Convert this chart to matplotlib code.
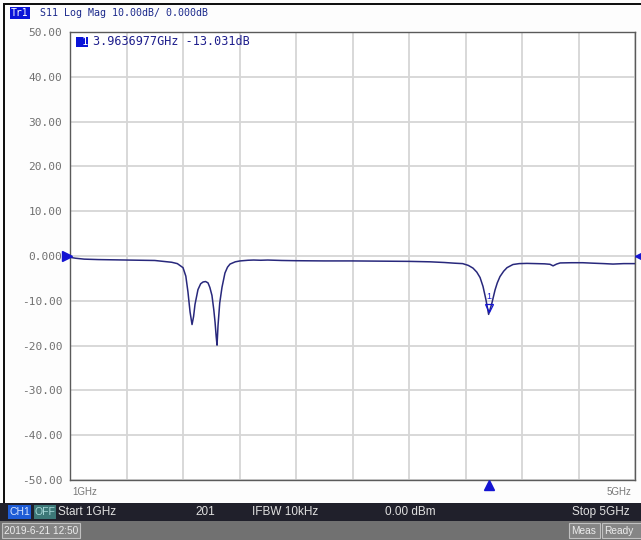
import matplotlib
matplotlib.use("Agg")
import matplotlib.pyplot as plt
import matplotlib.transforms as mtransforms
from matplotlib.patches import Rectangle
import numpy as np

W, H = 641, 540

# S11 trace (GHz, dB)
freq_ghz = [1.00, 1.04, 1.10, 1.20, 1.30, 1.40, 1.50, 1.60, 1.66, 1.72, 1.76, 1.80,
            1.82, 1.835, 1.85, 1.864, 1.875, 1.885, 1.906, 1.925, 1.942, 1.96, 1.977,
            1.99, 2.005, 2.018, 2.027, 2.035, 2.041, 2.048, 2.06, 2.076, 2.097, 2.115,
            2.133, 2.17, 2.204, 2.26, 2.30, 2.35, 2.40, 2.50, 2.60, 2.80, 3.00, 3.20,
            3.40, 3.55, 3.65, 3.72, 3.78, 3.82, 3.853, 3.88, 3.903, 3.924, 3.945,
            3.9637, 3.987, 4.009, 4.025, 4.044, 4.07, 4.094, 4.136, 4.18, 4.235, 4.30,
            4.36, 4.398, 4.42, 4.445, 4.47, 4.55, 4.63, 4.70, 4.78, 4.844, 4.92, 5.00]
s11_db = [-0.3, -0.5, -0.7, -0.8, -0.85, -0.9, -0.95, -1.0, -1.2, -1.4, -1.7, -2.6,
          -4.5, -8.0, -12.5, -15.3, -13.5, -10.8, -7.5, -6.2, -5.8, -5.7, -6.0,
          -7.0, -8.8, -12.0, -14.8, -18.0, -19.9, -15.5, -10.5, -7.0, -3.8, -2.5,
          -1.8, -1.3, -1.1, -0.95, -0.9, -0.95, -0.9, -1.0, -1.05, -1.1, -1.1, -1.15,
          -1.2, -1.3, -1.45, -1.6, -1.7, -2.1, -2.7, -3.6, -4.8, -6.8, -9.8,
          -13.03, -10.5, -7.6, -6.0, -4.6, -3.4, -2.6, -1.9, -1.7, -1.65, -1.7,
          -1.75, -1.85, -2.2, -1.8, -1.55, -1.5, -1.5, -1.6, -1.7, -1.8, -1.7, -1.7]

marker_freq = 3.9636977
marker_db = -13.031
y_ticks = [50, 40, 30, 20, 10, 0, -10, -20, -30, -40, -50]
y_tick_labels = ["50.00", "40.00", "30.00", "20.00", "10.00", "0.000",
                 "-10.00", "-20.00", "-30.00", "-40.00", "-50.00"]
header = "S11 Log Mag 10.00dB/ 0.000dB"
readout = "3.9636977GHz -13.031dB"
status_labels = ["Start 1GHz", "201", "IFBW 10kHz", "0.00 dBm", "Stop 5GHz"]

MONO = "DejaVu Sans Mono"
SANS = "Liberation Sans"
TRACE = "#28287c"
MARK = "#1414d2"


def fx(px):
    return px / W


def fy(py):
    return 1 - py / H


fig = plt.figure(figsize=(W / 100, H / 100), dpi=100)
fig.patch.set_facecolor("#fdfdfd")

ax = fig.add_axes([fx(70), fy(480), 565 / W, 448 / H])
ax.set_facecolor("white")
ax.plot(freq_ghz, s11_db, color=TRACE, lw=1.1, zorder=3)
ax.set_xlim(1, 5)
ax.set_ylim(-50, 50)
ax.set_xticks(np.linspace(1, 5, 11))
ax.set_xticklabels([])
ax.set_yticks(y_ticks)
ax.set_yticklabels(y_tick_labels, fontfamily=MONO, fontsize=8, color="#707070")
ax.tick_params(length=0, pad=5.5)
ax.grid(color="#d6d6d6", lw=1.3)
for s in ax.spines.values():
    s.set_color("#5a5a5a")
    s.set_linewidth(1.0)

# reference level arrows at 0 dB
left_tr = mtransforms.offset_copy(ax.transData, fig=fig, x=-3.5, y=0, units="dots")
ax.plot([1], [0], marker=">", ms=7, color=MARK, clip_on=False, transform=left_tr, zorder=5)
right_tr = mtransforms.offset_copy(ax.transData, fig=fig, x=5, y=0, units="dots")
ax.plot([5], [0], marker="<", ms=7, color=MARK, clip_on=False, transform=right_tr, zorder=5)

# marker 1 on the trace
tri_tr = mtransforms.offset_copy(ax.transData, fig=fig, x=0, y=6, units="dots")
ax.plot([marker_freq], [marker_db], marker="v", ms=6, mfc="none", mec=MARK, mew=0.9,
        transform=tri_tr, zorder=4)
ax.annotate("1", (marker_freq, marker_db), xytext=(0, 13), textcoords="offset points",
            ha="center", va="center", fontsize=6.5, color=MARK, family=SANS)

# marker position arrow below the grid
blend = mtransforms.blended_transform_factory(ax.transData, ax.transAxes)
bot_tr = mtransforms.offset_copy(blend, fig=fig, x=0, y=-5, units="dots")
ax.plot([marker_freq], [0], marker="^", ms=7, color=MARK, clip_on=False,
        transform=bot_tr, zorder=5)

# marker readout
fig.patches.append(Rectangle((fx(76), fy(47)), 12 / W, 10 / H, transform=fig.transFigure,
                             facecolor="#0a14d8", edgecolor="none", zorder=5))
fig.text(fx(84.5), fy(42), "1", color="white", fontsize=7.5, family=MONO,
         ha="center", va="center", zorder=6)
fig.text(fx(93), fy(42), readout, color="#1e1e8c", fontsize=8.5, family=MONO,
         va="center", zorder=6)

# trace header
fig.patches.append(Rectangle((fx(10), fy(19)), 20 / W, 12 / H, transform=fig.transFigure,
                             facecolor="#0a14d8", edgecolor="none"))
fig.text(fx(20), fy(13), "Tr1", color="white", fontsize=7, family=MONO, ha="center", va="center")
fig.text(fx(40), fy(13), header, color="#1c2a8c", fontsize=7.2, family=MONO, va="center")

# frequency end labels
fig.text(fx(72), fy(492), "1GHz", color="#777777", fontsize=7, family=SANS, va="center")
fig.text(fx(631), fy(492), "5GHz", color="#777777", fontsize=7, family=SANS,
         va="center", ha="right")

# screen borders
fig.patches.append(Rectangle((fx(3), fy(5)), 1 - fx(3), 2 / H, transform=fig.transFigure,
                             facecolor="#111111", edgecolor="none"))
fig.patches.append(Rectangle((fx(3), fy(505)), 2 / W, 500 / H, transform=fig.transFigure,
                             facecolor="#111111", edgecolor="none"))

# channel status bar
fig.patches.append(Rectangle((0, fy(521)), 1, 18 / H, transform=fig.transFigure,
                             facecolor="#20202b", edgecolor="none"))
fig.patches.append(Rectangle((fx(8), fy(519)), 23 / W, 14 / H, transform=fig.transFigure,
                             facecolor="#1e5cd6", edgecolor="none"))
fig.text(fx(19.5), fy(512), "CH1", color="#d8e6ff", fontsize=7.5, family=SANS,
         ha="center", va="center")
fig.patches.append(Rectangle((fx(34), fy(519)), 22 / W, 14 / H, transform=fig.transFigure,
                             facecolor="#3d7878", edgecolor="none"))
fig.text(fx(45), fy(512), "OFF", color="#a8d8d8", fontsize=7.5, family=SANS,
         ha="center", va="center")
status_x = [58, 195, 252, 385, 572]
for lbl, px in zip(status_labels, status_x):
    fig.text(fx(px), fy(512), lbl, color="#e0e0e0", fontsize=8.5, family=SANS, va="center")

# system bar
fig.patches.append(Rectangle((0, 0), 1, 19 / H, transform=fig.transFigure,
                             facecolor="#717171", edgecolor="none"))
for x0, x1, txt in [(2, 80, "2019-6-21 12:50"), (569, 600, "Meas"), (602, 645, "Ready")]:
    fig.patches.append(Rectangle((fx(x0), fy(538)), (x1 - x0) / W, 15 / H,
                                 transform=fig.transFigure, facecolor="#858585",
                                 edgecolor="#c0c0c0", lw=0.8))
    fig.text(fx(x0 + 2.5), fy(530.5), txt, color="#ececec", fontsize=7.3, family=SANS,
             va="center")

fig.savefig("out.png", dpi=100, facecolor=fig.get_facecolor())
